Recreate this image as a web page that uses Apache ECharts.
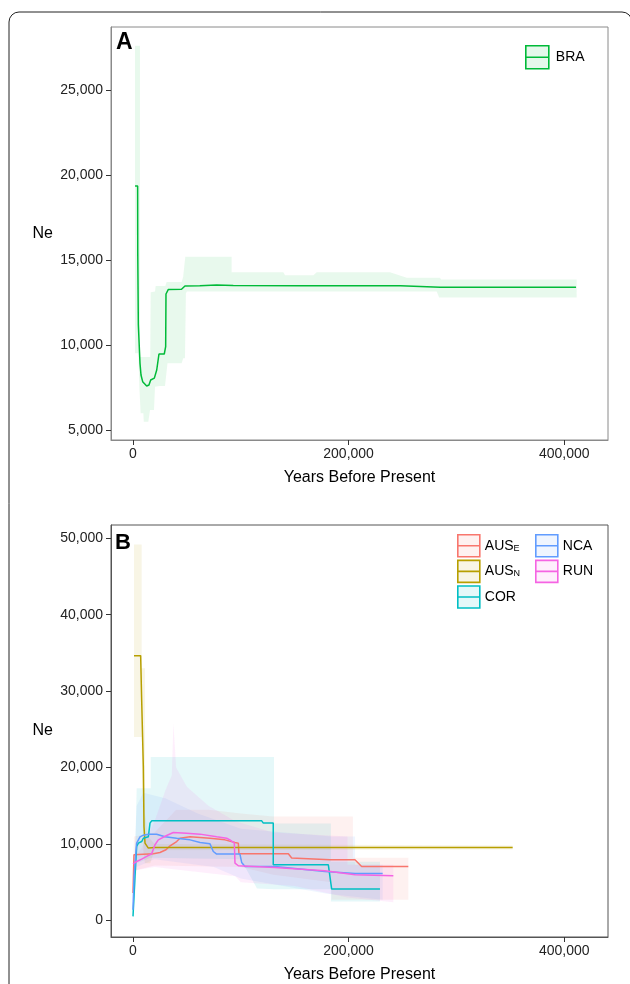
<!DOCTYPE html>
<html><head><meta charset="utf-8">
<script src="https://cdn.jsdelivr.net/npm/echarts@6/dist/echarts.min.js"></script>
<style>html,body{margin:0;padding:0;background:#fff}#c{width:630px;height:984px}</style>
</head><body><div id="c"></div>
<script>
// ---------- Axis ticks ----------
const xTicks = [0, 200000, 400000];
const xTickLabels = ['0', '200,000', '400,000'];
const yTicksA = [5000, 10000, 15000, 20000, 25000];
const yTickLabelsA = ['5,000', '10,000', '15,000', '20,000', '25,000'];
const yTicksB = [0, 10000, 20000, 30000, 40000, 50000];
const yTickLabelsB = ['0', '10,000', '20,000', '30,000', '40,000', '50,000'];

// ---------- Panel A: BRA ----------
const braLine = [[1900,19350],[4300,19350],[4400,15500],[4950,11200],[5560,10290],[6490,8920],[7420,8235],[8970,7843],[12700,7590],[14800,7650],[16400,7940],[19800,8050],[22000,8530],[24100,9470],[29000,9470],[30300,9900],[30600,13000],[32800,13270],[45000,13280],[48200,13470],[62000,13480],[77600,13530],[93000,13500],[155000,13480],[248000,13480],[285000,13400],[411000,13400]];
const braUpper = [[1855,27600],[6490,27600],[6490,9300],[16000,9300],[16390,13100],[20400,13150],[21000,13470],[30000,13470],[31200,13700],[45100,13700],[46500,14000],[48500,15190],[91500,15190],[91500,14280],[139500,14280],[141000,14100],[167300,14100],[170400,14280],[238400,14280],[253900,13950],[284800,13950],[285800,13860],[411550,13860]];
const braLower = [[1855,9510],[4950,9510],[5870,7550],[7100,5980],[9600,5980],[10000,5490],[14200,5490],[15800,6180],[19500,6180],[20400,7550],[24400,7590],[29700,7590],[32000,8920],[45100,8920],[46600,9216],[48200,9216],[49100,13040],[50000,13140],[281700,13140],[284000,12790],[411550,12790]];

// ---------- Panel B ----------
const ausELine = [[0,3600],[900,8600],[5000,8650],[18900,8730],[25000,8900],[30600,9250],[33700,9690],[40500,10330],[43600,10760],[52900,10950],[71400,10760],[85300,10550],[94600,10200],[97700,10120],[98300,8730],[144100,8730],[147200,8170],[182700,7950],[205900,7950],[212100,7070],[255400,7070]];
const ausEUpper = [[0,5000],[900,11000],[20000,11500],[40000,14500],[70000,14500],[100000,14000],[130000,13600],[204000,13600],[204000,8200],[255400,8200]];
const ausELower = [[0,1500],[900,6500],[20000,7200],[100000,7000],[130000,6000],[184000,5000],[184000,2700],[255400,2700]];

const ausNLine = [[930,34650],[7100,34650],[8040,28860],[9585,20140],[10200,12300],[11130,10130],[14220,9475],[20000,9550],[352200,9550]];
const ausNUpper = [[930,49200],[8040,49200],[8040,33000],[11130,33000],[11130,14000],[14000,11000],[20000,10000],[352200,9800]];
const ausNLower = [[930,24000],[8040,24000],[9000,16000],[9600,9000],[11000,7500],[16000,7500],[20000,9200],[352200,9300]];

const corLine = [[0,540],[1855,5770],[3400,9690],[5000,10120],[8040,10330],[9585,10760],[14230,10950],[15770,12740],[17300,13040],[119400,13040],[120900,12740],[130100,12740],[130100,7290],[181200,7290],[184300,4115],[229100,4115]];
const corUpper = [[0,1000],[1855,8000],[3400,17300],[16400,17300],[16400,21400],[130800,21400],[130800,12700],[183600,12700],[183600,7700],[229100,7700]];
const corLower = [[0,300],[1855,3000],[3400,7500],[16400,8200],[100000,8000],[115000,4200],[130800,4100],[183600,4100],[183600,2500],[229100,2500]];

const ncaLine = [[0,1410],[930,5770],[3400,10120],[6490,10950],[9585,11160],[14230,11290],[21950,11290],[29680,10950],[40500,10760],[52900,10550],[62200,10200],[71400,10030],[74500,9030],[77600,8690],[99200,8690],[100800,7600],[103900,7070],[131600,7070],[178000,6420],[206000,6150],[231600,6150]];
const ncaUpper = [[0,3000],[3400,15000],[9600,16700],[30000,16000],[60000,14000],[100000,12000],[184000,11000],[206000,11000],[206000,7300],[231600,7300]];
const ncaLower = [[0,500],[3400,7000],[20000,8000],[75000,7000],[100000,5500],[180000,3500],[231600,2700]];

const runLine = [[0,7420],[3400,7720],[8040,8030],[12700,8380],[17300,8730],[20400,9910],[23500,10550],[31200,11120],[37400,11520],[49700,11430],[62200,11300],[77600,10950],[86900,10760],[89900,10550],[94000,10120],[94600,7510],[97700,7160],[131600,6940],[178000,6510],[206000,5990],[241500,5860]];
const runUpper = [[0,8000],[8000,9500],[20000,13000],[30000,17000],[36000,19000],[37500,25800],[40000,20000],[50000,17500],[70000,15000],[95000,13000],[130000,11500],[199000,11000],[199000,7300],[241500,7300]];
const runLower = [[0,6500],[20000,7000],[50000,6500],[95000,5800],[100000,5000],[150000,4500],[199000,3000],[241500,2400]];

// ---------- styling ----------
const FONT = '"Liberation Sans", Arial, Helvetica, sans-serif';
const COL = {BRA:'#00BA38', AUS_E:'#F8766D', AUS_N:'#B79F00', COR:'#00BFC4', NCA:'#619CFF', RUN:'#F564E3'};
function rgba(hex, a){const n=parseInt(hex.slice(1),16);return `rgba(${n>>16},${(n>>8)&255},${n&255},${a})`;}

function band(name, idx, upper, lower, a){
  return {
    type:'custom', name, xAxisIndex:idx, yAxisIndex:idx, silent:true, z:1, clip:true,
    data:[upper[0]],
    renderItem:(params, api)=>{
      const pts = upper.map(p=>api.coord(p)).concat(lower.slice().reverse().map(p=>api.coord(p)));
      return {type:'polygon', shape:{points:pts}, style:{fill:rgba(COL[name], a)}};
    }
  };
}
function line(name, idx, data){
  return {type:'line', name, xAxisIndex:idx, yAxisIndex:idx, data, showSymbol:false, symbol:'none',
    z:3, silent:true, lineStyle:{color:COL[name], width:1.5}, itemStyle:{color:COL[name]}};
}
function xAxis(idx){
  return {type:'value', gridIndex:idx, min:-20408, max:440631,
    name:'Years Before Present', nameLocation:'middle', nameGap:30,
    nameTextStyle:{fontSize:16, color:'#000', fontFamily:FONT},
    axisLine:{show:true, onZero:false, lineStyle:{color: idx===0?'#8a8a8a':'#555', width:1}},
    axisTick:{show:true, length:5, customValues:xTicks, lineStyle:{color:'#333'}},
    axisLabel:{customValues:xTicks, margin:7, fontSize:14, color:'#222', fontFamily:FONT,
      formatter:v=>xTickLabels[xTicks.indexOf(v)]},
    splitLine:{show:false}};
}
function yAxis(idx, min, max, ticks, labels){
  return {type:'value', gridIndex:idx, min, max,
    name:'Ne', nameLocation:'middle', nameRotate:0, nameGap:58,
    nameTextStyle:{fontSize:16, color:'#000', fontFamily:FONT},
    axisLine:{show:true, onZero:false, lineStyle:{color: idx===0?'#8a8a8a':'#555', width:1}},
    axisTick:{show:true, length:5, customValues:ticks, lineStyle:{color:'#333'}},
    axisLabel:{customValues:ticks, margin:8, fontSize:14, color:'#222', fontFamily:FONT,
      formatter:v=>labels[ticks.indexOf(v)]},
    splitLine:{show:false}};
}
const ICON = 'path://M0,0H22V22H0Z M0,11H22';
function legendItem(name){
  return {name, icon:ICON, itemStyle:{color:rgba(COL[name],0.1), borderColor:COL[name], borderWidth:1.6}};
}
const LABELS = {BRA:'BRA', AUS_E:'AUS{s|E}', AUS_N:'AUS{s|N}', COR:'COR', NCA:'NCA', RUN:'RUN'};
function legend(names, left, top, size, padLeft){
  return {show:true, orient:'vertical', left, top, itemWidth:size, itemHeight:size, itemGap:2,
    selectedMode:false, padding:0, data:names.map(legendItem),
    formatter:n=>LABELS[n],
    textStyle:{fontSize:14, color:'#000', fontFamily:FONT, padding:[0,0,0,padLeft],
      rich:{s:{fontSize:9, color:'#000', fontFamily:FONT, verticalAlign:'bottom', padding:[5,0,0,0]}}}};
}

const option = {
  backgroundColor:'#fff',
  animation:false,
  grid:[
    {left:111, top:27, width:497, height:413, show:true, borderColor:'#8a8a8a', borderWidth:1, backgroundColor:'transparent'},
    {left:111, top:525, width:497, height:412, show:true, borderColor:'#555', borderWidth:1, backgroundColor:'transparent'}
  ],
  xAxis:[xAxis(0), xAxis(1)],
  yAxis:[yAxis(0, 4412, 28706, yTicksA, yTickLabelsA), yAxis(1, -2157, 51738, yTicksB, yTickLabelsB)],
  legend:[
    legend(['BRA'], 525, 45, 23, 2),
    legend(['AUS_E','AUS_N','COR'], 457, 534, 22, 0),
    legend(['NCA','RUN'], 535, 534, 22, 0)
  ],
  graphic:[
    {type:'rect', shape:{x:9, y:12, width:623, height:1100, r:10}, style:{fill:'none', stroke:'#222', lineWidth:1}, silent:true, z:-1},
    {type:'text', left:116, top:31, style:{text:'A', font:'bold 23px "Liberation Sans", Arial', fill:'#000'}},
    {type:'text', left:115, top:532, style:{text:'B', font:'bold 22px "Liberation Sans", Arial', fill:'#000'}}
  ],
  series:[
    band('BRA', 0, braUpper, braLower, 0.09),
    line('BRA', 0, braLine),
    band('AUS_E', 1, ausEUpper, ausELower, 0.1),
    band('AUS_N', 1, ausNUpper, ausNLower, 0.1),
    band('COR', 1, corUpper, corLower, 0.1),
    band('NCA', 1, ncaUpper, ncaLower, 0.1),
    band('RUN', 1, runUpper, runLower, 0.1),
    line('AUS_E', 1, ausELine),
    line('AUS_N', 1, ausNLine),
    line('COR', 1, corLine),
    line('NCA', 1, ncaLine),
    line('RUN', 1, runLine)
  ]
};
const chart = echarts.init(document.getElementById('c'), null, {renderer:'canvas'});
chart.setOption(option);
</script>
</body></html>
